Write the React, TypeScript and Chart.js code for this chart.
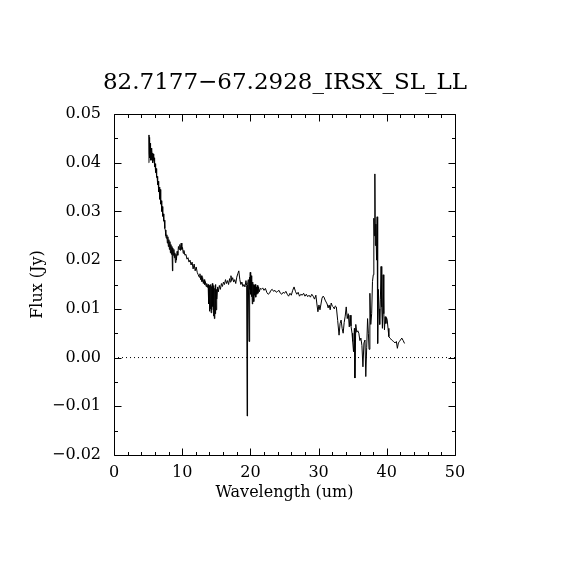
import React, { useEffect, useRef } from "react";
import { Chart, registerables } from "chart.js";

Chart.register(...registerables);

const TITLE = "82.7177\u221267.2928_IRSX_SL_LL";
const X_LABEL = "Wavelength (um)";
const Y_LABEL = "Flux (Jy)";
const X_MIN = 0;
const X_MAX = 50;
const X_STEP = 10;
const X_MINOR = 2;
const Y_MIN = -0.02;
const Y_MAX = 0.05;
const Y_STEP = 0.01;
const Y_MINOR = 0.005;

const wavelength = [
  5.10, 5.13, 5.17, 5.20, 5.24, 5.28, 5.32, 5.36, 5.40, 5.45, 5.50, 5.55, 5.60, 5.65, 5.70, 5.76, 5.82, 5.88, 5.95, 6.02,
  6.10, 6.17, 6.25, 6.32, 6.40, 6.47, 6.55, 6.62, 6.70, 6.77, 6.85, 6.92, 7.00, 7.07, 7.15, 7.22, 7.30, 7.37, 7.45, 7.52,
  7.60, 7.67, 7.75, 7.82, 7.90, 7.97, 8.05, 8.12, 8.20, 8.27, 8.35, 8.42, 8.50, 8.57, 8.62, 8.70, 8.78, 8.85, 8.92, 9.00,
  9.08, 9.15, 9.25, 9.35, 9.45, 9.55, 9.65, 9.75, 9.85, 9.95, 10.05, 10.15, 10.25, 10.40, 10.55, 10.70, 10.85, 11.00, 11.15, 11.30,
  11.45, 11.60, 11.75, 11.90, 12.05, 12.20, 12.35, 12.50, 12.60, 12.70, 12.80, 12.90, 13.00, 13.10, 13.20, 13.30, 13.40, 13.50, 13.60, 13.70,
  13.80, 13.88, 13.94, 14.00, 14.06, 14.12, 14.18, 14.24, 14.30, 14.36, 14.42, 14.48, 14.54, 14.60, 14.66, 14.72, 14.78, 14.84, 14.90, 14.96,
  15.02, 15.10, 15.20, 15.30, 15.45, 15.60, 15.75, 15.90, 16.05, 16.20, 16.35, 16.50, 16.65, 16.80, 16.95, 17.05, 17.15, 17.25, 17.40, 17.55,
  17.70, 17.85, 18.00, 18.15, 18.30, 18.45, 18.60, 18.75, 18.90, 19.05, 19.20, 19.35, 19.45, 19.52, 19.58, 19.70, 19.80, 19.86, 19.92, 19.98,
  20.04, 20.10, 20.16, 20.22, 20.28, 20.34, 20.40, 20.46, 20.52, 20.58, 20.64, 20.70, 20.78, 20.86, 20.94, 21.02, 21.10, 21.20, 21.30, 21.45,
  21.60, 21.80, 22.00, 22.20, 22.40, 22.60, 22.80, 23.00, 23.20, 23.40, 23.60, 23.80, 24.00, 24.20, 24.40, 24.60, 24.80, 25.00, 25.20, 25.40,
  25.60, 25.80, 26.00, 26.20, 26.40, 26.60, 26.80, 27.00, 27.20, 27.40, 27.60, 27.80, 28.00, 28.20, 28.40, 28.60, 28.80, 29.00, 29.20, 29.40,
  29.60, 29.75, 29.90, 30.05, 30.20, 30.35, 30.50, 30.65, 30.80, 30.95, 31.10, 31.25, 31.40, 31.55, 31.70, 31.85, 32.00, 32.15, 32.30, 32.45,
  32.60, 32.80, 33.00, 33.15, 33.30, 33.45, 33.60, 33.75, 33.90, 34.05, 34.20, 34.35, 34.50, 34.62, 34.75, 34.90, 35.00, 35.12, 35.25, 35.32,
  35.45, 35.60, 35.75, 35.90, 36.05, 36.20, 36.35, 36.50, 36.65, 36.80, 36.92, 37.05, 37.18, 37.30, 37.40, 37.52, 37.65, 37.78, 37.90, 38.02,
  38.10, 38.18, 38.25, 38.32, 38.40, 38.50, 38.58, 38.66, 38.76, 38.86, 38.96, 39.06, 39.16, 39.26, 39.36, 39.46, 39.56, 39.66, 39.76, 39.86,
  39.96, 40.06, 40.18, 40.30, 40.45, 40.60, 40.80, 41.00, 41.20, 41.40, 41.55, 41.70, 41.85, 42.00, 42.20, 42.40, 42.60,
];

const flux = [
  0.0400, 0.0457, 0.0420, 0.0452, 0.0410, 0.0440, 0.0405, 0.0432, 0.0415, 0.0430, 0.0405, 0.0425, 0.0412, 0.0420, 0.0400, 0.0418, 0.0405, 0.0410, 0.0392, 0.0398,
  0.0380, 0.0388, 0.0370, 0.0372, 0.0355, 0.0362, 0.0340, 0.0350, 0.0325, 0.0345, 0.0315, 0.0322, 0.0300, 0.0310, 0.0290, 0.0295, 0.0280, 0.0282, 0.0265, 0.0262,
  0.0250, 0.0245, 0.0252, 0.0235, 0.0248, 0.0228, 0.0242, 0.0222, 0.0238, 0.0215, 0.0232, 0.0212, 0.0228, 0.0178, 0.0225, 0.0210, 0.0222, 0.0205, 0.0215, 0.0195,
  0.0212, 0.0200, 0.0218, 0.0210, 0.0228, 0.0222, 0.0232, 0.0220, 0.0235, 0.0222, 0.0226, 0.0214, 0.0220, 0.0210, 0.0212, 0.0202, 0.0205, 0.0196, 0.0200, 0.0190,
  0.0196, 0.0182, 0.0192, 0.0178, 0.0186, 0.0175, 0.0170, 0.0165, 0.0172, 0.0160, 0.0168, 0.0156, 0.0164, 0.0152, 0.0160, 0.0150, 0.0156, 0.0146, 0.0152, 0.0144,
  0.0150, 0.0110, 0.0148, 0.0095, 0.0145, 0.0100, 0.0150, 0.0092, 0.0146, 0.0098, 0.0152, 0.0105, 0.0145, 0.0085, 0.0148, 0.0080, 0.0142, 0.0090, 0.0150, 0.0098,
  0.0140, 0.0120, 0.0145, 0.0135, 0.0148, 0.0140, 0.0152, 0.0146, 0.0155, 0.0150, 0.0160, 0.0152, 0.0158, 0.0150, 0.0162, 0.0155, 0.0168, 0.0158, 0.0164, 0.0155,
  0.0160, 0.0152, 0.0165, 0.0172, 0.0178, 0.0160, 0.0150, 0.0155, 0.0146, 0.0150, 0.0145, 0.0158, 0.0148, -0.0120, 0.0150, 0.0160, 0.0033, 0.0165, 0.0140, 0.0175,
  0.0130, 0.0168, 0.0125, 0.0160, 0.0110, 0.0155, 0.0130, 0.0150, 0.0115, 0.0148, 0.0128, 0.0150, 0.0124, 0.0145, 0.0130, 0.0148, 0.0132, 0.0145, 0.0135, 0.0142,
  0.0140, 0.0143, 0.0138, 0.0142, 0.0134, 0.0130, 0.0132, 0.0138, 0.0140, 0.0136, 0.0138, 0.0134, 0.0136, 0.0138, 0.0132, 0.0130, 0.0134, 0.0132, 0.0136, 0.0130,
  0.0126, 0.0132, 0.0128, 0.0138, 0.0145, 0.0136, 0.0130, 0.0134, 0.0126, 0.0130, 0.0128, 0.0132, 0.0126, 0.0130, 0.0125, 0.0128, 0.0124, 0.0130, 0.0126, 0.0120,
  0.0128, 0.0110, 0.0094, 0.0108, 0.0098, 0.0110, 0.0122, 0.0126, 0.0124, 0.0118, 0.0114, 0.0110, 0.0102, 0.0108, 0.0098, 0.0112, 0.0106, 0.0104, 0.0100, 0.0106,
  0.0104, 0.0076, 0.0046, 0.0070, 0.0077, 0.0060, 0.0050, 0.0072, 0.0085, 0.0104, 0.0080, 0.0090, 0.0063, 0.0087, 0.0065, 0.0050, 0.0033, 0.0012, 0.0060, -0.0042,
  0.0068, 0.0052, 0.0055, 0.0050, 0.0035, 0.0040, 0.0025, -0.0019, 0.0030, 0.0036, -0.0039, 0.0020, 0.0080, 0.0050, 0.0017, 0.0132, 0.0068, 0.0090, 0.0156, 0.0170,
  0.0286, 0.0250, 0.0377, 0.0230, 0.0274, 0.0200, 0.0289, 0.0029, 0.0140, 0.0100, 0.0068, 0.0120, 0.0187, 0.0104, 0.0060, 0.0170, 0.0090, 0.0057, 0.0084, 0.0070,
  0.0082, 0.0077, 0.0060, 0.0043, 0.0040, 0.0038, 0.0035, 0.0033, 0.0030, 0.0033, 0.0019, 0.0030, 0.0033, 0.0036, 0.0040, 0.0035, 0.0029,
];

const zeroLineX = [0, 50];
const zeroLineY = [0, 0];

const FONT = "'DejaVu Serif', serif";

const idlFrame = {
  id: "idlFrame",
  afterDraw(chart: any) {
    const { ctx, chartArea: a, scales } = chart;
    const xs = scales.x;
    const ys = scales.y;
    const L = Math.round(a.left) + 0.5;
    const R = Math.round(a.right) + 0.5;
    const T = Math.round(a.top) + 0.5;
    const B = Math.round(a.bottom) + 0.5;
    ctx.save();
    ctx.fillStyle = "#000";
    ctx.font = "normal 23px " + FONT;
    ctx.textAlign = "center";
    ctx.textBaseline = "middle";
    ctx.fillText(TITLE, chart.width / 2, 83);
    ctx.strokeStyle = "#000";
    ctx.lineWidth = 1;
    ctx.beginPath();
    ctx.rect(L, T, R - L, B - T);
    const major = 7;
    const minor = 3.5;
    for (let v = X_MIN; v <= X_MAX + 1e-9; v += X_MINOR) {
      const p = Math.round(xs.getPixelForValue(v)) + 0.5;
      const len = Math.abs(v / X_STEP - Math.round(v / X_STEP)) < 1e-6 ? major : minor;
      ctx.moveTo(p, B);
      ctx.lineTo(p, B - len);
      ctx.moveTo(p, T);
      ctx.lineTo(p, T + len);
    }
    const nY = Math.round((Y_MAX - Y_MIN) / Y_MINOR);
    for (let i = 0; i <= nY; i++) {
      const v = Y_MIN + i * Y_MINOR;
      const p = Math.round(ys.getPixelForValue(v)) + 0.5;
      const len = i % 2 === 0 ? major : minor;
      ctx.moveTo(L, p);
      ctx.lineTo(L + len, p);
      ctx.moveTo(R, p);
      ctx.lineTo(R - len, p);
    }
    ctx.stroke();
    ctx.restore();
  },
};

export default function App() {
  const ref = useRef<HTMLCanvasElement>(null);
  useEffect(() => {
    if (!ref.current) return;
    Chart.defaults.font.family = FONT;
    Chart.defaults.color = "#000";
    const spectrum = wavelength.map((w, i) => ({ x: w, y: flux[i] }));
    const zero = zeroLineX.map((w, i) => ({ x: w, y: zeroLineY[i] }));
    const chart = new Chart(ref.current, {
      type: "line",
      data: {
        datasets: [
          {
            data: zero,
            borderColor: "#000",
            borderWidth: 1,
            borderDash: [1, 3],
            pointRadius: 0,
            fill: false,
          },
          {
            data: spectrum,
            borderColor: "#000",
            borderWidth: 1,
            pointRadius: 0,
            tension: 0,
            fill: false,
          },
        ],
      },
      options: {
        animation: false,
        responsive: false,
        devicePixelRatio: 1,
        layout: { padding: { left: 0, right: 115, top: 114, bottom: 0 } },
        plugins: {
          legend: { display: false },
          tooltip: { enabled: false },
          title: { display: false },
        },
        scales: {
          x: {
            type: "linear",
            min: X_MIN,
            max: X_MAX,
            grid: { display: false },
            border: { display: false },
            ticks: {
              stepSize: X_STEP,
              padding: 0,
              maxRotation: 0,
              font: { family: FONT, size: 16 },
              color: "#000",
              callback: (v: any) => String(v),
            },
            title: {
              display: true,
              text: X_LABEL,
              font: { family: FONT, size: 16 },
              color: "#000",
              padding: { top: 0, bottom: 68 },
            },
            afterFit: (s: any) => {
              s.height = 115;
            },
          },
          y: {
            type: "linear",
            min: Y_MIN,
            max: Y_MAX,
            grid: { display: false },
            border: { display: false },
            ticks: {
              stepSize: Y_STEP,
              padding: 5,
              font: { family: FONT, size: 16 },
              color: "#000",
              callback: (v: any) => {
                const n = Number(v);
                if (Math.abs(n) < 1e-9) return "0.00";
                return n.toFixed(2).replace("-", "\u2212");
              },
            },
            title: {
              display: true,
              text: Y_LABEL,
              font: { family: FONT, size: 16 },
              color: "#000",
              padding: { top: 28, bottom: 0 },
            },
            afterFit: (s: any) => {
              s.width = 114;
            },
          },
        },
      },
      plugins: [idlFrame],
    });
    return () => chart.destroy();
  }, []);
  return (
    <div style={{ position: "absolute", left: 0, top: 0, width: 570, height: 570, background: "#fff" }}>
      <canvas ref={ref} width={570} height={570} style={{ display: "block" }} />
    </div>
  );
}
